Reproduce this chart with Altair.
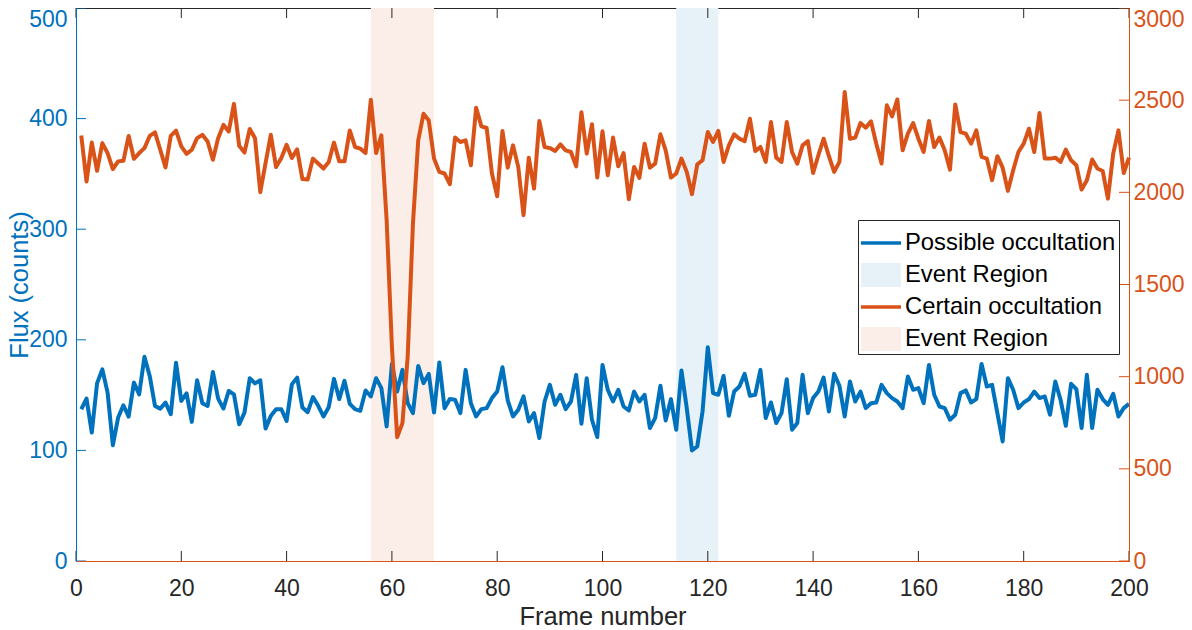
import altair as alt
import pandas as pd

# ---------------- data ----------------
frames = list(range(1, 201))

possible_counts = [
    137.2, 146.8, 116.1, 160.6, 173.3, 152.2, 104.7, 129.7, 140.8, 130.6,
    161.3, 150.7, 184.7, 167.3, 140.2, 137.8, 143.2, 132.7, 179.3, 144.7,
    151.6, 125.8, 163.4, 142.6, 140.2, 170.9, 146.8, 137.8, 153.7, 150.7,
    123.6, 134.2, 165.2, 160.6, 163.4, 119.7, 131.2, 137.2, 137.2, 126.7,
    159.7, 165.8, 138.7, 134.6, 148.2, 140.3, 130.7, 139.1, 164.7, 146.4,
    162.9, 142.1, 137.3, 135.8, 154.2, 148.8, 165.3, 156.3, 121.7, 178.2,
    153.2, 172.8, 142.7, 133.7, 176.4, 160.8, 169.2, 134.3, 179.5, 138.2,
    146.4, 145.8, 133.7, 172.8, 142.7, 130.7, 137.3, 138.2, 147.3, 153.2,
    175.2, 145.2, 130.7, 136.7, 148.8, 126.2, 133.7, 111.2, 144.2, 159.3,
    141.2, 150.3, 137.3, 144.2, 168.3, 124.1, 165.3, 127.7, 112.1, 177.3,
    154.8, 144.2, 154.8, 139.7, 136.1, 153.2, 144.2, 150.3, 120.2, 129.2,
    158.4, 127.1, 146.4, 118.7, 172.2, 138.2, 100.0, 103.6, 135.2, 193.3,
    151.8, 150.3, 167.4, 131.3, 153.2, 157.8, 169.2, 149.4, 150.3, 172.8,
    129.2, 143.3, 124.7, 133.7, 164.4, 118.7, 124.7, 168.3, 133.7, 147.3,
    153.2, 165.9, 135.2, 169.2, 158.4, 130.7, 162.3, 144.2, 153.2, 138.2,
    142.7, 143.3, 159.3, 151.8, 147.3, 144.2, 138.2, 166.8, 154.8, 156.3,
    142.7, 177.3, 150.3, 139.7, 138.2, 127.7, 132.2, 151.8, 154.2, 143.3,
    146.4, 178.2, 157.8, 159.3, 133.7, 108.1, 165.3, 154.8, 138.2, 143.3,
    146.4, 153.2, 147.3, 148.8, 132.2, 162.3, 145.8, 122.3, 160.2, 155.4,
    120.2, 168.3, 120.2, 154.8, 146.4, 141.2, 151.2, 130.7, 138.2, 142.1,
]

certain_counts = [
    2308, 2059, 2270, 2117, 2267, 2213, 2126, 2168, 2171, 2306,
    2182, 2213, 2240, 2306, 2325, 2231, 2135, 2306, 2335, 2249,
    2209, 2231, 2294, 2312, 2276, 2177, 2294, 2366, 2330, 2480,
    2252, 2216, 2344, 2294, 2001, 2158, 2312, 2137, 2186, 2258,
    2186, 2233, 2072, 2069, 2183, 2156, 2129, 2165, 2270, 2168,
    2168, 2336, 2246, 2237, 2213, 2502, 2213, 2309, 1849, 1163,
    672, 748, 1109, 1831, 2282, 2426, 2390, 2183, 2111, 2102,
    2044, 2297, 2273, 2282, 2147, 2459, 2358, 2349, 2102, 1979,
    2333, 2134, 2255, 2138, 1876, 2188, 2020, 2387, 2246, 2240,
    2224, 2260, 2228, 2219, 2141, 2435, 2210, 2369, 2080, 2331,
    2093, 2297, 2141, 2213, 1963, 2138, 2078, 2264, 2134, 2156,
    2315, 2228, 2080, 2102, 2183, 2111, 1990, 2152, 2174, 2327,
    2273, 2333, 2165, 2255, 2315, 2291, 2278, 2399, 2224, 2246,
    2165, 2381, 2188, 2165, 2381, 2219, 2156, 2255, 2278, 2105,
    2201, 2291, 2196, 2111, 2165, 2544, 2291, 2297, 2376, 2351,
    2385, 2264, 2156, 2472, 2412, 2504, 2228, 2318, 2376, 2291,
    2219, 2387, 2246, 2297, 2228, 2123, 2477, 2327, 2318, 2264,
    2336, 2192, 2183, 2066, 2196, 2134, 2008, 2120, 2219, 2264,
    2345, 2219, 2430, 2183, 2183, 2188, 2165, 2232, 2174, 2147,
    2015, 2066, 2178, 2129, 2116, 1966, 2210, 2336, 2105, 2188,
]

region_start = [114, 56]
region_end = [122, 68]
region_keys = ["possible_region", "certain_region"]

legend_keys = ["possible", "possible_region", "certain", "certain_region"]
legend_labels = ["Possible occultation", "Event Region", "Certain occultation", "Event Region"]
line_keys = ["possible", "certain"]

x_ticks = [0, 20, 40, 60, 80, 100, 120, 140, 160, 180, 200]
left_ticks = [0, 100, 200, 300, 400, 500]
right_ticks = [0, 500, 1000, 1500, 2000, 2500, 3000]

x_title = "Frame number"
y_title = "Flux (counts)"

# ---------------- styling ----------------
BLUE = "#0072BD"
ORANGE = "#D95319"
DARK = "#262626"
legend_colors = ["#0072BD", "#E6F1F8", "#D95319", "#FBEEE8"]
FONT = "Liberation Sans"

W, H = 1053, 553
PAD = {"left": 68, "top": 0, "right": 55, "bottom": 69}
TICK = 10

df_possible = pd.DataFrame({"frame": frames, "counts": possible_counts})
df_certain = pd.DataFrame({"frame": frames, "counts": certain_counts})
df_regions = pd.DataFrame({"start": region_start, "end": region_end, "key": region_keys})
df_xt = pd.DataFrame({"tick": x_ticks})
df_lt = pd.DataFrame({"tick": left_ticks})
df_rt = pd.DataFrame({"tick": right_ticks})

x_scale = alt.Scale(domain=[0, 200], nice=False, zero=False)
left_scale = alt.Scale(domain=[0, 500], nice=False)
right_scale = alt.Scale(domain=[0, 3000], nice=False)
color_scale = alt.Scale(domain=legend_keys, range=legend_colors)

# legend label expression built from the label list
label_expr = "'" + legend_labels[-1] + "'"
for k, lab in reversed(list(zip(legend_keys[:-1], legend_labels[:-1]))):
    label_expr = f"datum.value === '{k}' ? '{lab}' : ({label_expr})"

line_test = " || ".join(f"datum.value === '{k}'" for k in line_keys)
shape_expr = f"({line_test}) ? 'M-1,-0.09H1V0.09H-1Z' : 'M-1,-0.6H1V0.6H-1Z'"

legend = alt.Legend(
    title=None, orient="none", legendX=782, legendY=212, direction="vertical",
    labelExpr=label_expr, labelFont=FONT, labelFontSize=23.8, labelColor="black",
    labelLimit=400, labelOffset=4, symbolSize=1600, symbolStrokeWidth=0,
    symbolType=alt.ExprRef(expr=shape_expr), symbolOpacity=1,
    rowPadding=-1.4, padding=3, strokeColor=DARK, fillColor="white",
)
color = alt.Color("key:N", scale=color_scale, legend=legend)

x_axis = alt.Axis(
    values=x_ticks, title=x_title, labelFont=FONT, labelFontSize=23, labelColor=DARK,
    labelPadding=16, labelFlush=False, ticks=False, domainColor=ORANGE,
    grid=False, titleFont=FONT, titleFontSize=25.5, titleFontWeight="normal",
    titleColor=DARK, titleBaseline="alphabetic", titleY=63, zindex=1,
)
left_axis = alt.Axis(
    values=left_ticks, title=y_title, orient="left", labelFont=FONT, labelFontSize=23,
    labelColor=BLUE, labelPadding=9, labelFlush=False, ticks=False,
    domainColor=BLUE, grid=False, titleFont=FONT, titleFontSize=25.5,
    titleFontWeight="normal", titleColor=BLUE, titleX=-49, titleY=H / 2, titleAngle=270,
    titleBaseline="alphabetic", titleAlign="center", zindex=1,
    labelBaseline={"condition": {"test": f"datum.value == {left_ticks[-1]}", "value": "top"},
                   "value": "middle"},
)
right_axis = alt.Axis(
    values=right_ticks, title=None, orient="right", format="d", labelFont=FONT,
    labelFontSize=23, labelColor=ORANGE, labelPadding=4, labelFlush=False, ticks=False,
    domainColor=ORANGE, grid=False, zindex=1,
    labelBaseline={"condition": {"test": f"datum.value == {right_ticks[-1]}", "value": "top"},
                   "value": "middle"},
)

shades = alt.Chart(df_regions).mark_rect().encode(
    x=alt.X("start:Q", scale=x_scale, axis=x_axis),
    x2="end:Q",
    y=alt.value(0),
    y2=alt.value(H),
    color=color,
)

blue_line = alt.Chart(df_possible).mark_line(
    strokeWidth=4, strokeJoin="round", color=legend_colors[0]
).encode(
    x=alt.X("frame:Q", scale=x_scale, axis=x_axis),
    y=alt.Y("counts:Q", scale=left_scale, axis=left_axis),
)

left_tick_marks = alt.Chart(df_lt).mark_rule(color=BLUE, strokeWidth=1).encode(
    y=alt.Y("tick:Q", scale=left_scale, axis=left_axis),
    x=alt.value(0),
    x2=alt.value(TICK),
)

bottom_ticks = alt.Chart(df_xt).mark_rule(color=DARK, strokeWidth=1).encode(
    x=alt.X("tick:Q", scale=x_scale, axis=x_axis),
    y=alt.value(H),
    y2=alt.value(H - TICK),
)
top_ticks = alt.Chart(df_xt).mark_rule(color=DARK, strokeWidth=1).encode(
    x=alt.X("tick:Q", scale=x_scale, axis=x_axis),
    y=alt.value(0),
    y2=alt.value(TICK),
)

orange_line = alt.Chart(df_certain).mark_line(
    strokeWidth=4, strokeJoin="round", color=legend_colors[2]
).encode(
    x=alt.X("frame:Q", scale=x_scale, axis=x_axis),
    y=alt.Y("counts:Q", scale=right_scale, axis=right_axis),
)
right_tick_marks = alt.Chart(df_rt).mark_rule(color=ORANGE, strokeWidth=1).encode(
    y=alt.Y("tick:Q", scale=right_scale, axis=right_axis),
    x=alt.value(W - TICK),
    x2=alt.value(W),
)

left_group = alt.layer(shades, blue_line, left_tick_marks, bottom_ticks, top_ticks)
right_group = alt.layer(orange_line, right_tick_marks)

chart = (
    alt.layer(left_group, right_group)
    .resolve_scale(y="independent")
    .properties(width=W, height=H, padding=PAD, autosize=alt.AutoSizeParams(type="none"),
                background="white")
    .configure_view(stroke=DARK, strokeWidth=1)
)

chart.save("out.html", embed_options={"renderer": "svg", "actions": False})
